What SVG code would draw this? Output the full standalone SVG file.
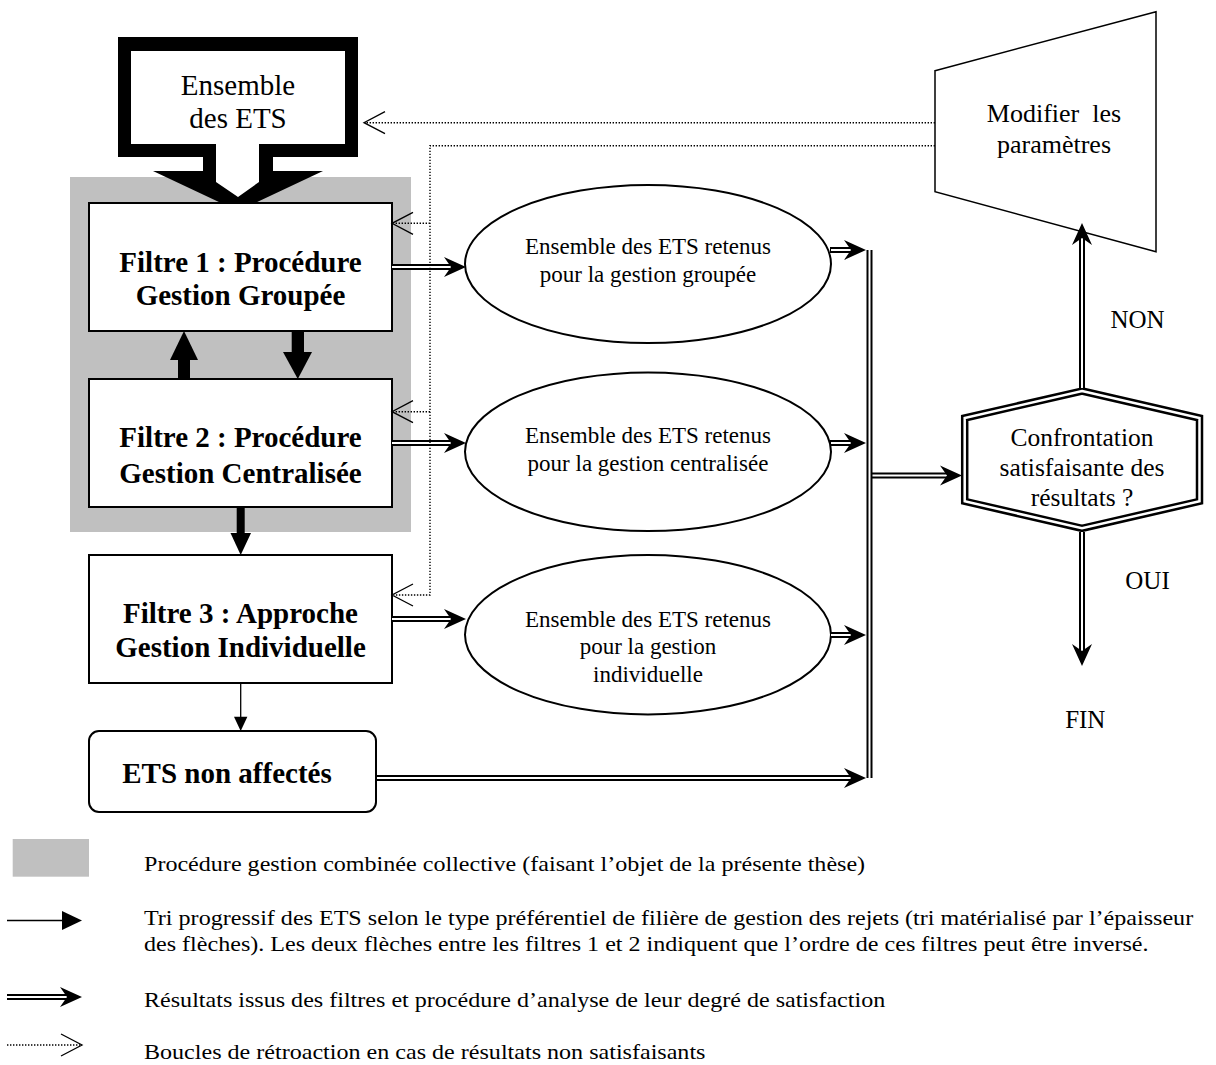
<svg xmlns="http://www.w3.org/2000/svg" xmlns:xlink="http://www.w3.org/1999/xlink" width="1216" height="1065" viewBox="0 0 1216 1065">
<style>
text{font-family:"Liberation Serif","Times New Roman",serif;fill:#000;text-anchor:middle}
.bf{font-weight:bold;font-size:29px}
.big{font-size:29px}
.el{font-size:23px}
.hx{font-size:25.5px}
.md{font-size:26px}
.lb{font-size:25px}
.lg{font-size:20px;text-anchor:start}
.box{fill:#fff;stroke:#000;stroke-width:2}
.dbl{fill:none;stroke:#000;stroke-width:6}
.dblw{fill:none;stroke:#fff;stroke-width:2}
.dot{fill:none;stroke:#000;stroke-width:1.4;stroke-dasharray:1.4 1.6}
.open{fill:none;stroke:#000;stroke-width:1.3}
</style>
<defs>
<path id="ah" d="M0,0 L-22,-10 L-15,0 L-22,10 Z" fill="#000"/>
<path id="oh" d="M21,-11 L0,0 L21,11" class="open"/>
</defs>
<rect width="1216" height="1065" fill="#fff"/>

<g id="zone-combinee">
<rect x="70" y="177" width="341" height="355" fill="#c0c0c0"/>
</g>

<g id="ensemble-ets">
<polygon points="118,37 358,37 358,157 273,157 273,171 323,171 238,211 153,171 203,171 203,157 118,157" fill="#000"/>
<polygon points="131,51 345,51 345,144 259,144 259,182 238,197 216,182 216,144 131,144" fill="#fff"/>
<text class="big" x="238" y="95">Ensemble</text>
<text class="big" x="238" y="128">des ETS</text>
</g>

<g id="filtre1">
<rect class="box" x="89" y="203" width="303" height="128"/>
<text class="bf" x="240.5" y="271.5">Filtre 1 : Procédure</text>
<text class="bf" x="240.5" y="305">Gestion Groupée</text>
</g>

<g id="filtre2">
<rect class="box" x="89" y="379" width="303" height="128"/>
<text class="bf" x="240.5" y="447.3">Filtre 2 : Procédure</text>
<text class="bf" x="240.5" y="482.7">Gestion Centralisée</text>
</g>

<g id="filtre3">
<rect class="box" x="89" y="555" width="303" height="128"/>
<text class="bf" x="240.5" y="623.3">Filtre 3 : Approche</text>
<text class="bf" x="240.5" y="656.7">Gestion Individuelle</text>
</g>

<g id="non-affectes">
<rect class="box" x="89" y="731" width="287" height="81" rx="10"/>
<text class="bf" x="227" y="783">ETS non affectés</text>
</g>

<g id="ens-groupee">
<ellipse class="box" cx="648" cy="264" rx="183" ry="79"/>
<text class="el" x="648" y="254.3">Ensemble des ETS retenus</text>
<text class="el" x="648" y="281.7">pour la gestion groupée</text>
</g>

<g id="ens-centralisee">
<ellipse class="box" cx="648" cy="451.7" rx="183" ry="79.3"/>
<text class="el" x="648" y="443.3">Ensemble des ETS retenus</text>
<text class="el" x="648" y="470.7">pour la gestion centralisée</text>
</g>

<g id="ens-individuelle">
<ellipse class="box" cx="648" cy="634.7" rx="183" ry="79.7"/>
<text class="el" x="648" y="627.3">Ensemble des ETS retenus</text>
<text class="el" x="648" y="654">pour la gestion</text>
<text class="el" x="648" y="681.7">individuelle</text>
</g>

<g id="modifier">
<polygon class="box" points="935,70.7 1156,11.7 1156,251.7 935,191.7" style="stroke-width:1.5"/>
<text class="md" x="1054" y="121.7">Modifier&#160; les</text>
<text class="md" x="1054" y="153.3">paramètres</text>
</g>

<g id="confrontation">
<polygon points="1082,391 1199.5,418 1199.5,501.3 1082,528.3 964.7,501.3 964.7,418" fill="#fff" stroke="#000" stroke-width="7.5"/>
<polygon points="1082,391 1199.5,418 1199.5,501.3 1082,528.3 964.7,501.3 964.7,418" fill="none" stroke="#fff" stroke-width="2.5"/>
<text class="hx" x="1082" y="446">Confrontation</text>
<text class="hx" x="1082" y="476">satisfaisante des</text>
<text class="hx" x="1082" y="505.7">résultats ?</text>
</g>

<g id="labels">
<text class="lb" x="1137.5" y="328.3">NON</text>
<text class="lb" x="1147.5" y="589.3">OUI</text>
<text class="lb" x="1085.3" y="728.3">FIN</text>
</g>

<g id="connectors">
<rect x="178" y="358" width="12" height="21"/>
<polygon points="170,360 198,360 184,331"/>
<rect x="291.7" y="331" width="12.3" height="23"/>
<polygon points="283,352 312,352 297.8,379"/>
<rect x="236.7" y="507" width="8" height="28"/>
<polygon points="230.5,533 251,533 240.7,555"/>
<line x1="240.7" y1="683" x2="240.7" y2="718" stroke="#000" stroke-width="1.3"/>
<polygon points="234,716.7 247.4,716.7 240.7,731"/>

<path class="dbl" d="M392,267H450M392,443H450M392,619H450M830,250H851M830,443H851M830,635H851M376,778H851M869.5,250V778M872,475.5H947M1082,388V238M1082,532V651"/>
<path class="dblw" d="M392,267H451M392,443H451M392,619H451M831,250H852M831,443H852M831,635H852M377,778H852M869.5,248V780M872.5,475.5H948M1082,388V237M1082,532V652"/>
<use xlink:href="#ah" transform="translate(466,267)"/>
<use xlink:href="#ah" transform="translate(466,443)"/>
<use xlink:href="#ah" transform="translate(466,619)"/>
<use xlink:href="#ah" transform="translate(866,250)"/>
<use xlink:href="#ah" transform="translate(866,443)"/>
<use xlink:href="#ah" transform="translate(866,635)"/>
<use xlink:href="#ah" transform="translate(866,778)"/>
<use xlink:href="#ah" transform="translate(962,475.5)"/>
<use xlink:href="#ah" transform="translate(1082,223) rotate(-90)"/>
<use xlink:href="#ah" transform="translate(1082,666) rotate(90)"/>

<path class="dot" d="M935,122.7H366"/>
<use xlink:href="#oh" transform="translate(364,122.7)"/>
<path class="dot" d="M935,145.7H430V595H394M430,223.3H394M430,411.7H394"/>
<use xlink:href="#oh" transform="translate(392,223.3)"/>
<use xlink:href="#oh" transform="translate(392,411.7)"/>
<use xlink:href="#oh" transform="translate(392,595)"/>
</g>

<g id="legende">
<rect x="12.7" y="839" width="76.3" height="37.7" fill="#c0c0c0"/>
<line x1="7" y1="920.5" x2="64" y2="920.5" stroke="#000" stroke-width="1.5"/>
<polygon points="62,911 82,920.5 62,930"/>
<path class="dbl" d="M7,997H68"/>
<path class="dblw" d="M7,997H69"/>
<use xlink:href="#ah" transform="translate(82,997)"/>
<path class="dot" d="M7,1045H80"/>
<use xlink:href="#oh" transform="translate(82,1045) scale(-1,1)"/>
<g transform="translate(144 0) scale(1.204 1)">
<text class="lg" x="0" y="871">Procédure gestion combinée collective (faisant l’objet de la présente thèse)</text>
<text class="lg" x="0" y="925">Tri progressif des ETS selon le type préférentiel de filière de gestion des rejets (tri matérialisé par l’épaisseur</text>
<text class="lg" x="0" y="951">des flèches). Les deux flèches entre les filtres 1 et 2 indiquent que l’ordre de ces filtres peut être inversé.</text>
<text class="lg" x="0" y="1007">Résultats issus des filtres et procédure d’analyse de leur degré de satisfaction</text>
<text class="lg" x="0" y="1059">Boucles de rétroaction en cas de résultats non satisfaisants</text>
</g>
</g>
</svg>
